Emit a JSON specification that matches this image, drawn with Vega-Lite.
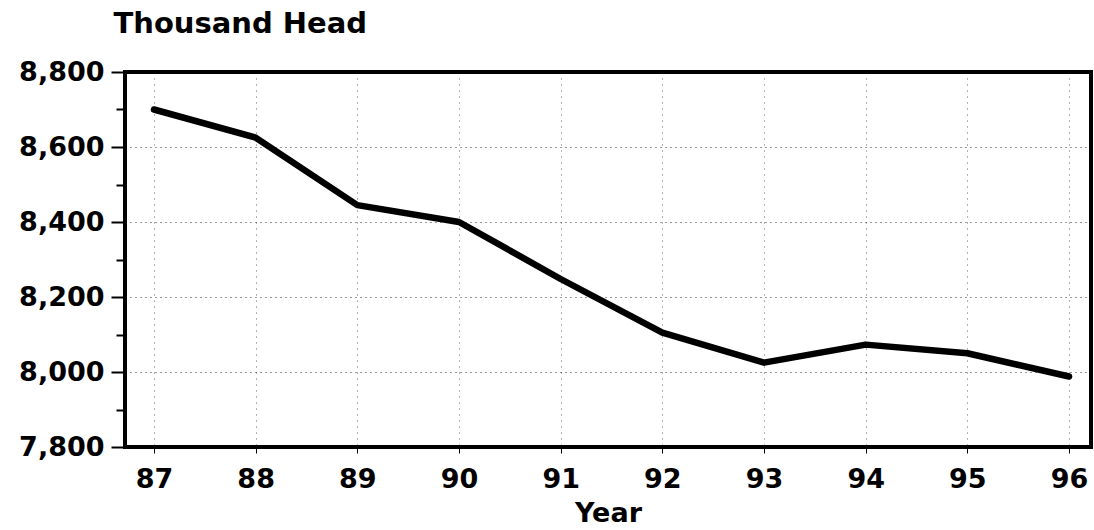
{
  "$schema": "https://vega.github.io/schema/vega-lite/v6.json",
  "autosize": {"type": "none"},
  "padding": {"left": 125, "top": 72, "right": 3, "bottom": 83},
  "width": 966,
  "height": 375,
  "background": "white",
  "view": {"stroke": "black", "strokeWidth": 4},
  "config": {
    "font": "DejaVu Sans",
    "axis": {"labelFont": "DejaVu Sans", "titleFont": "DejaVu Sans", "labelFontWeight": "bold", "titleFontWeight": "bold", "labelColor": "black", "titleColor": "black"}
  },
  "data": {
    "values": [
      {"year": 87, "head": 8700},
      {"year": 88, "head": 8625},
      {"year": 89, "head": 8445},
      {"year": 90, "head": 8400},
      {"year": 91, "head": 8248},
      {"year": 92, "head": 8105},
      {"year": 93, "head": 8025},
      {"year": 94, "head": 8073},
      {"year": 95, "head": 8050},
      {"year": 96, "head": 7988}
    ]
  },
  "mark": {"type": "line", "color": "black", "strokeWidth": 6.5, "strokeJoin": "round", "strokeCap": "round"},
  "encoding": {
    "x": {
      "field": "year",
      "type": "quantitative",
      "scale": {"domain": [86.715, 96.216], "nice": false, "zero": false},
      "axis": {
        "title": "Year",
        "values": [87, 88, 89, 90, 91, 92, 93, 94, 95, 96],
        "format": "d",
        "labelFontSize": 27,
        "titleFontSize": 27,
        "titlePadding": 8,
        "tickSize": 6,
        "tickColor": "black",
        "tickWidth": 1,
        "labelPadding": 13,
        "domain": false,
        "grid": true,
        "gridColor": "black",
        "gridDash": [1, 5],
        "gridWidth": 1,
        "gridOpacity": 0.6
      }
    },
    "y": {
      "field": "head",
      "type": "quantitative",
      "scale": {"domain": [7800, 8800], "nice": false, "zero": false},
      "axis": {
        "title": "Thousand Head",
        "titleAngle": 0,
        "titleAlign": "left",
        "titleBaseline": "alphabetic",
        "titleX": -12,
        "titleY": -40,
        "titleFontSize": 29,
        "values": [7800, 7900, 8000, 8100, 8200, 8300, 8400, 8500, 8600, 8700, 8800],
        "labelExpr": "datum.value % 200 === 0 ? format(datum.value, ',') : ''",
        "labelFontSize": 27,
        "labelPadding": 7,
        "tickSize": {"condition": {"test": "datum.value % 200 === 0", "value": 14}, "value": 9},
        "tickColor": "black",
        "tickWidth": 2,
        "domain": false,
        "grid": true,
        "gridColor": "black",
        "gridDash": [1, 4],
        "gridWidth": 1,
        "gridOpacity": {"condition": {"test": "datum.value % 200 === 0", "value": 0.8}, "value": 0}
      }
    }
  }
}
